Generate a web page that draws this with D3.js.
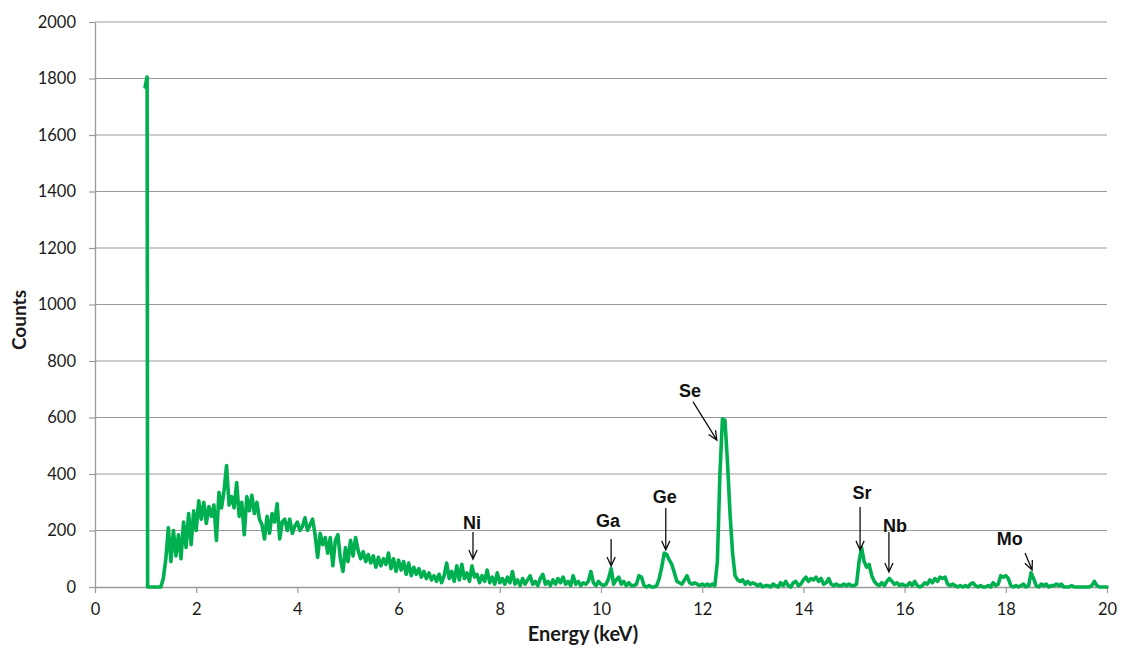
<!DOCTYPE html>
<html><head><meta charset="utf-8">
<script src="https://cdn.jsdelivr.net/npm/d3@7"></script>
<style>body{margin:0;background:#fff}svg{display:block}</style>
</head><body><svg id="chart" width="1125" height="648"></svg>
<script>
// ---- data ----
const xTicks = [0, 2, 4, 6, 8, 10, 12, 14, 16, 18, 20];
const yTicks = [0, 200, 400, 600, 800, 1000, 1200, 1400, 1600, 1800, 2000];
const xLabel = "Energy (keV)";
const yLabel = "Counts";

// narrow line at ~1 keV
const spikeEnergies = [0.99, 1.03, 1.04];
const spikeCounts = [1770, 1805, 0];

// channel calibration for the remaining spectrum
const channelStart = 1.05;
const channelWidth = 0.05;
// counts per channel, one row per keV (1.05 .. 20.00)
const counts = [
  0, 0, 0, 0, 0, 0, 30, 100, 210, 90, 200, 110, 185, 100, 230, 140, 260, 150, 270, 200,
  305, 240, 300, 225, 285, 250, 290, 165, 335, 280, 340, 430, 290, 320, 280, 370, 250, 300, 185, 320,
  270, 325, 260, 300, 240, 220, 170, 250, 190, 260, 230, 295, 170, 230, 240, 200, 240, 190, 215, 230,
  200, 215, 245, 200, 220, 240, 185, 105, 190, 150, 175, 120, 175, 75, 165, 185, 100, 55, 140, 90,
  165, 110, 175, 130, 100, 125, 90, 115, 85, 110, 70, 105, 75, 100, 80, 120, 65, 100, 55, 95,
  60, 90, 45, 85, 40, 70, 45, 65, 35, 55, 30, 50, 25, 40, 20, 45, 15, 40, 85, 30,
  55, 20, 75, 25, 80, 30, 50, 20, 75, 35, 45, 15, 40, 20, 60, 15, 35, 10, 50, 15,
  30, 10, 35, 15, 55, 10, 25, 5, 30, 10, 25, 40, 10, 20, 5, 30, 45, 10, 20, 5,
  25, 10, 30, 15, 35, 10, 20, 5, 40, 10, 20, 5, 15, 10, 20, 55, 15, 5, 20, 10,
  5, 10, 30, 65, 10, 25, 35, 10, 20, 5, 15, 5, 5, 10, 40, 35, 5, 0, 5, 0,
  0, 5, 30, 70, 120, 115, 95, 80, 50, 20, 15, 10, 25, 40, 15, 10, 15, 10, 5, 10,
  5, 10, 5, 10, 5, 90, 400, 595, 590, 440, 260, 120, 40, 25, 20, 25, 10, 20, 10, 15,
  10, 5, 10, 0, 5, 5, 0, 10, 5, 0, 15, 5, 20, 5, 0, 15, 20, 5, 10, 25,
  35, 20, 30, 25, 35, 20, 30, 10, 15, 30, 10, 5, 10, 5, 5, 10, 5, 10, 5, 5,
  10, 90, 140, 90, 70, 80, 40, 20, 10, 5, 15, 5, 20, 30, 20, 10, 15, 5, 10, 5,
  5, 15, 5, 20, 5, 0, 5, 15, 10, 25, 15, 30, 20, 35, 30, 35, 10, 5, 10, 5,
  0, 5, 0, 5, 0, 10, 15, 5, 0, 5, 0, 0, 5, 0, 15, 5, 10, 40, 35, 40,
  30, 5, 0, 5, 0, 5, 10, 0, 5, 50, 30, 5, 0, 10, 5, 10, 0, 5, 5, 10,
  5, 10, 0, 0, 0, 5, 0, 0, 0, 0, 0, 0, 0, 5, 20, 5, 0, 0, 0, 0
];

// peak annotations: label, arrow tip, arrow tail, label centre (data units)
const annotLabels = ["Ni", "Ga", "Ge", "Se", "Sr", "Nb", "Mo"];
const annotTipE   = [7.47, 10.20, 11.28, 12.29, 15.12, 15.69, 18.52];
const annotTipC   = [99, 74, 131, 520, 131, 53, 60];
const annotTailE  = [7.47, 10.20, 11.28, 11.82, 15.12, 15.69, 18.38];
const annotTailC  = [195, 170, 280, 655, 283, 195, 120];
const annotTextE  = [7.45, 10.14, 11.26, 11.76, 15.16, 15.81, 18.08];
const annotTextC  = [230, 234, 319, 697, 333, 219, 173];

// ---- chart ----
const svg = d3.select("#chart");
const x = d3.scaleLinear().domain([0, 20]).range([95, 1107]);
const y = d3.scaleLinear().domain([0, 2000]).range([587, 22]);
const gridColor = "#9a9a9a";
const tickFont = "Lato, 'Open Sans', sans-serif";

// gridlines
svg.append("g").selectAll("line").data(yTicks.filter(d => d > 0)).join("line")
  .attr("x1", x(0)).attr("x2", x(20))
  .attr("y1", d => y(d)).attr("y2", d => y(d))
  .attr("stroke", gridColor).attr("stroke-width", 1.2);

// axes
const yAxis = svg.append("g").attr("transform", `translate(${x(0)},0)`)
  .call(d3.axisLeft(y).tickValues(yTicks).tickSizeInner(6).tickSizeOuter(0).tickPadding(13).tickFormat(d3.format("d")));
const xAxis = svg.append("g").attr("transform", `translate(0,${y(0)})`)
  .call(d3.axisBottom(x).tickValues(xTicks).tickSizeInner(6).tickSizeOuter(0).tickPadding(10).tickFormat(d3.format("d")));
[yAxis, xAxis].forEach(g => {
  g.select(".domain").attr("stroke", gridColor).attr("stroke-width", 1.3);
  g.selectAll(".tick line").attr("stroke", gridColor).attr("stroke-width", 1.2);
  g.selectAll(".tick text").attr("fill", "#1a1a1a").style("font-family", tickFont).style("font-size", "16.5px");
});

// spectrum
const pts = spikeEnergies.map((e, i) => [e, spikeCounts[i]])
  .concat(counts.map((c, i) => [channelStart + i * channelWidth, c]));
svg.append("path").datum(pts)
  .attr("fill", "none").attr("stroke", "#00B050").attr("stroke-width", 3.6)
  .attr("stroke-linejoin", "round").attr("stroke-linecap", "round")
  .attr("d", d3.line().x(d => x(d[0])).y(d => y(d[1])));

// annotations
const ann = svg.append("g");
annotLabels.forEach((lab, i) => {
  const tx = x(annotTipE[i]), ty = y(annotTipC[i]);
  const sx = x(annotTailE[i]), sy = y(annotTailC[i]);
  const ang = Math.atan2(ty - sy, tx - sx);
  const L = 10, a = 0.42;
  const p1 = [tx - L * Math.cos(ang - a), ty - L * Math.sin(ang - a)];
  const p2 = [tx - L * Math.cos(ang + a), ty - L * Math.sin(ang + a)];
  ann.append("path")
    .attr("d", `M${sx},${sy}L${tx},${ty}M${p1[0]},${p1[1]}L${tx},${ty}L${p2[0]},${p2[1]}`)
    .attr("fill", "none").attr("stroke", "#111").attr("stroke-width", 1.3);
  ann.append("text").attr("x", x(annotTextE[i])).attr("y", y(annotTextC[i]))
    .attr("text-anchor", "middle").attr("dy", "0.36em")
    .style("font-family", "'Liberation Sans', Arial, sans-serif").style("font-weight", "bold").style("font-size", "18px")
    .attr("fill", "#111").text(lab);
});

// axis titles
svg.append("text").attr("x", 583).attr("y", 641).attr("text-anchor", "middle")
  .style("font-family", tickFont).style("font-weight", "bold").style("font-size", "20px")
  .attr("fill", "#1a1a1a").text(xLabel);
svg.append("text").attr("transform", "translate(26,320) rotate(-90)").attr("text-anchor", "middle")
  .style("font-family", tickFont).style("font-weight", "bold").style("font-size", "19px")
  .attr("fill", "#1a1a1a").text(yLabel);
</script>
</body></html>
